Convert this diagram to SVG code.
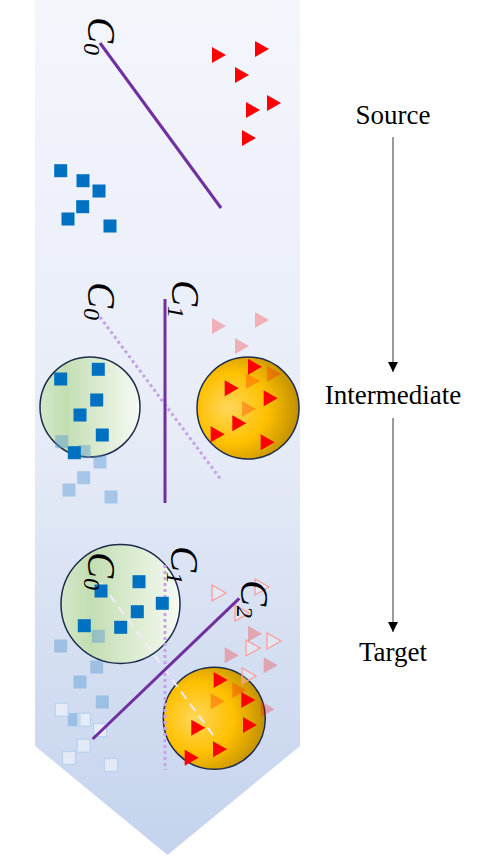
<svg xmlns="http://www.w3.org/2000/svg" xmlns:xlink="http://www.w3.org/1999/xlink" width="480" height="865" viewBox="0 0 480 865">
<style>
.sq{fill:#0070c0}
.sqf{fill:#5b9bd5;opacity:0.45}
.sqw{fill:#ffffff;fill-opacity:0.45;stroke:#b7d3ee;stroke-width:1.2}
.tri{fill:#ff0000}
.trif{fill:#ff0000;opacity:0.26}
.trio{fill:#ffffff;fill-opacity:0.25;stroke:#ff9c9c;stroke-width:1.3}
.sep{stroke:#7030a0;stroke-width:3;fill:none}
.dot{stroke:#c8a2e6;stroke-width:3;stroke-dasharray:3 3;fill:none}
.dash{stroke:#f4eaf6;stroke-width:2;stroke-dasharray:9 6;fill:none}
.cg{fill:url(#gGreen);stroke:#1f2d4d;stroke-width:1.5}
.co{fill:url(#gOrange);stroke:#1f2d4d;stroke-width:1.5}
.clab{font-family:'Liberation Serif','DejaVu Serif',serif;font-style:italic;font-size:39px;fill:#000}
.sub{font-size:24px}
.lab{font-family:'Liberation Serif','DejaVu Serif',serif;font-size:27px;fill:#000;text-anchor:middle}
.arr{stroke:#666666;stroke-width:1.3;fill:none;marker-end:url(#ah)}
</style>
<defs>
<linearGradient id="gBg" x1="0" y1="0" x2="0" y2="1">
<stop offset="0" stop-color="#f4f6fc"/>
<stop offset="0.5" stop-color="#e7ecf7"/>
<stop offset="1" stop-color="#c4d3ed"/>
</linearGradient>
<linearGradient id="gGreen" x1="0" y1="0" x2="1" y2="0">
<stop offset="0" stop-color="#d3e7c9"/>
<stop offset="0.25" stop-color="#c3deb2"/>
<stop offset="1" stop-color="#f6faf3"/>
</linearGradient>
<radialGradient id="gOrange" cx="0.38" cy="0.5" r="0.7" fx="0.3" fy="0.5">
<stop offset="0" stop-color="#ffd75a"/>
<stop offset="0.5" stop-color="#ffc000"/>
<stop offset="1" stop-color="#b08300"/>
</radialGradient>
<rect id="s" x="-6.5" y="-6.5" width="13" height="13"/>
<path id="t" d="M-7,-8 L7,0 L-7,8 Z"/>
<marker id="ah" markerUnits="userSpaceOnUse" markerWidth="11" markerHeight="11" refX="10" refY="5" orient="auto">
<path d="M0,0 L10,5 L0,10 Z" fill="#000"/>
</marker>
</defs>

<g id="background">
<polygon points="35,0 300,0 300,746 167.5,855 35,746" fill="url(#gBg)"/>
</g>

<g id="panel-source">
<line class="sep" x1="100" y1="43" x2="221" y2="208"/>
<text class="clab" transform="translate(88,17) rotate(90)">C<tspan class="sub" dy="4">0</tspan></text>
<g id="source-squares">
<use href="#s" class="sq" x="60.7" y="170.7"/><use href="#s" class="sq" x="83" y="180.7"/><use href="#s" class="sq" x="99" y="191"/>
<use href="#s" class="sq" x="82.7" y="206.7"/><use href="#s" class="sq" x="68" y="219"/><use href="#s" class="sq" x="110" y="226"/>
</g>
<g id="source-triangles">
<use href="#t" class="tri" x="219" y="55"/><use href="#t" class="tri" x="262" y="49"/><use href="#t" class="tri" x="242" y="75"/>
<use href="#t" class="tri" x="253" y="110"/><use href="#t" class="tri" x="274" y="103"/><use href="#t" class="tri" x="249" y="138"/>
</g>
</g>

<g id="panel-intermediate">
<circle id="int-cluster-green" class="cg" cx="90" cy="407" r="50"/>
<circle id="int-cluster-orange" class="co" cx="248" cy="408" r="51"/>
<line class="dot" x1="100" y1="317" x2="221.7" y2="480.7"/>
<line class="sep" x1="165" y1="299" x2="165" y2="503"/>
<text class="clab" transform="translate(88,282) rotate(90)">C<tspan class="sub" dy="4">0</tspan></text>
<text class="clab" transform="translate(172,280) rotate(90)">C<tspan class="sub" dy="4">1</tspan></text>
<g id="int-faded-squares">
<use href="#s" class="sqf" x="61.7" y="441.7"/><use href="#s" class="sqf" x="84" y="451.7"/><use href="#s" class="sqf" x="100" y="462"/>
<use href="#s" class="sqf" x="83.7" y="477.7"/><use href="#s" class="sqf" x="69" y="490"/><use href="#s" class="sqf" x="111" y="497"/>
</g>
<g id="int-squares">
<use href="#s" class="sq" x="60.7" y="379"/><use href="#s" class="sq" x="98.3" y="369.3"/><use href="#s" class="sq" x="96.7" y="400"/>
<use href="#s" class="sq" x="80" y="415"/><use href="#s" class="sq" x="102.3" y="435"/><use href="#s" class="sq" x="74.3" y="452.7"/>
</g>
<g id="int-faded-triangles">
<use href="#t" class="trif" x="219" y="326"/><use href="#t" class="trif" x="262" y="320"/><use href="#t" class="trif" x="242" y="346"/>
<use href="#t" class="trif" x="253" y="381"/><use href="#t" class="trif" x="274" y="374"/><use href="#t" class="trif" x="249" y="409"/>
</g>
<g id="int-triangles">
<use href="#t" class="tri" x="255" y="366.7"/><use href="#t" class="tri" x="231.7" y="388.3"/><use href="#t" class="tri" x="270.7" y="398.3"/>
<use href="#t" class="tri" x="239.3" y="423.3"/><use href="#t" class="tri" x="217.7" y="434.3"/><use href="#t" class="tri" x="267.7" y="442.3"/>
</g>
</g>

<g id="panel-target">
<circle id="tgt-cluster-green" class="cg" cx="120.5" cy="604" r="59.5"/>
<circle id="tgt-cluster-orange" class="co" cx="214.3" cy="718.3" r="51"/>
<g id="tgt-faded-squares">
<use href="#s" class="sqf" x="60.7" y="646"/><use href="#s" class="sqf" x="98.3" y="636.3"/><use href="#s" class="sqf" x="96.7" y="667"/>
<use href="#s" class="sqf" x="80" y="682"/><use href="#s" class="sqf" x="102.3" y="702"/><use href="#s" class="sqf" x="74.3" y="719.7"/>
</g>
<g id="tgt-ghost-squares">
<use href="#s" class="sqw" x="61.7" y="709.7"/><use href="#s" class="sqw" x="84" y="719.7"/><use href="#s" class="sqw" x="100" y="730"/>
<use href="#s" class="sqw" x="83.7" y="745.7"/><use href="#s" class="sqw" x="69" y="758"/><use href="#s" class="sqw" x="111" y="765"/>
</g>
<g id="tgt-ghost-triangles">
<use href="#t" class="trio" x="219" y="593"/><use href="#t" class="trio" x="262" y="587"/><use href="#t" class="trio" x="242" y="613"/>
<use href="#t" class="trio" x="253" y="648"/><use href="#t" class="trio" x="274" y="641"/><use href="#t" class="trio" x="249" y="676"/>
</g>
<g id="tgt-faded-triangles">
<use href="#t" class="trif" x="255" y="633.7"/><use href="#t" class="trif" x="231.7" y="655.3"/><use href="#t" class="trif" x="270.7" y="665.3"/>
<use href="#t" class="trif" x="239.3" y="690.3"/><use href="#t" class="trif" x="217.7" y="701.3"/><use href="#t" class="trif" x="267.7" y="709.3"/>
</g>
<line class="dot" x1="165" y1="565" x2="165" y2="770"/>
<line class="dash" x1="101" y1="583" x2="216.7" y2="740"/>
<g id="tgt-squares">
<use href="#s" class="sq" x="101" y="591"/><use href="#s" class="sq" x="139" y="581.7"/><use href="#s" class="sq" x="162.3" y="603.3"/>
<use href="#s" class="sq" x="137.3" y="611.7"/><use href="#s" class="sq" x="84.3" y="625.7"/><use href="#s" class="sq" x="120.7" y="627.3"/>
</g>
<g id="tgt-triangles">
<use href="#t" class="tri" x="220.7" y="680"/><use href="#t" class="tri" x="248.3" y="700"/><use href="#t" class="tri" x="198.3" y="727.7"/>
<use href="#t" class="tri" x="250" y="725"/><use href="#t" class="tri" x="220" y="749.3"/><use href="#t" class="tri" x="191.7" y="757.7"/>
</g>
<line class="sep" x1="92.7" y1="739" x2="239.3" y2="598.3"/>
<text class="clab" transform="translate(88,552) rotate(90)">C<tspan class="sub" dy="4">0</tspan></text>
<text class="clab" transform="translate(171,546) rotate(90)">C<tspan class="sub" dy="4">1</tspan></text>
<text class="clab" transform="translate(241,580) rotate(90)">C<tspan class="sub" dy="4">2</tspan></text>
</g>

<g id="node-source"><text class="lab" x="393" y="124">Source</text></g>
<g id="node-intermediate"><text class="lab" x="393" y="404">Intermediate</text></g>
<g id="node-target"><text class="lab" x="393" y="661">Target</text></g>

<g id="connectors">
<line class="arr" x1="393" y1="137" x2="393" y2="372"/>
<line class="arr" x1="393" y1="418" x2="393" y2="632"/>
</g>
</svg>
